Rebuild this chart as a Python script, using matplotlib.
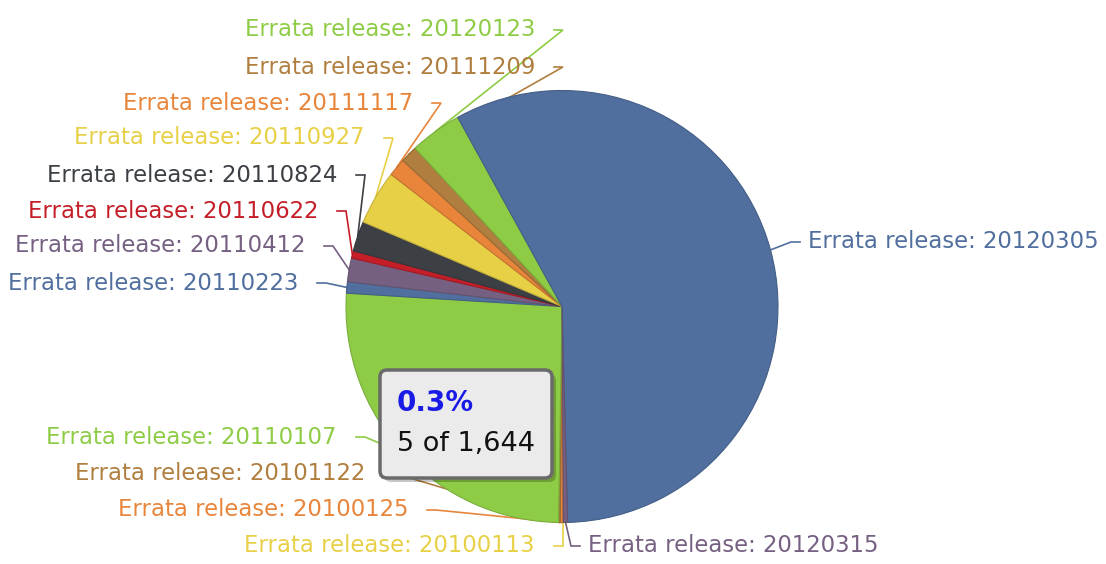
import matplotlib
matplotlib.use("Agg")
import matplotlib.pyplot as plt
import matplotlib.patches as mpatches
import numpy as np

# errata releases and the number of packages in each
releases = ["20100113", "20100125", "20101122", "20110107", "20110223", "20110412",
            "20110622", "20110824", "20110927", "20111117", "20111209", "20120123",
            "20120305", "20120315"]
counts = [1, 3, 2, 423, 14, 29, 9, 37, 67, 22, 21, 64, 947, 5]
palette = ["#E8D046", "#E8853A", "#B07E3E", "#8ECC45",
           "#506F9E", "#766082", "#C41E28", "#3C4044"]
colors = [palette[i % len(palette)] for i in range(len(releases))]

# label anchors in pixels from top-left (text edge nearest the pie)
label_x = [535, 408, 365, 337, 298, 305, 318, 337, 365, 413, 535, 535, 808, 588]
label_y = [546, 510, 473, 437, 283, 246, 211, 175, 138, 103, 67, 30, 242, 546]
hovered = "20120315"

W, H = 1106, 564
cx, cy, r = 562, 306.5, 216

fig = plt.figure(figsize=(W / 100, H / 100), dpi=100)
ax = fig.add_axes([0, 0, 1, 1])

wedges, _ = ax.pie(counts, colors=colors, startangle=-89.6, counterclock=False,
                   center=(cx, H - cy), radius=r, frame=True,
                   wedgeprops={"linewidth": 0.8, "zorder": 3})
for w, c in zip(wedges, colors):
    w.set_edgecolor(tuple(np.array(matplotlib.colors.to_rgb(c)) * 0.85))

# data labels with connectors
for w, name, c, lx, ly in zip(wedges, releases, colors, label_x, label_y):
    mid = np.deg2rad((w.theta1 + w.theta2) / 2)
    ex, ey = cx + r * np.cos(mid), (H - cy) + r * np.sin(mid)
    y = H - ly
    if lx > cx:
        pts = [(lx - 8, y), (lx - 17, y), (ex, ey)]
        ha = "left"
    else:
        pts = [(lx + 19, y), (lx + 28, y), (ex, ey)]
        ha = "right"
    xs, ys = zip(*pts)
    ax.plot(xs, ys, color=c, lw=1.2, zorder=2, solid_joinstyle="miter")
    ax.text(lx, y, "Errata release: " + name, color=c, fontsize=16.4,
            ha=ha, va="center", family="DejaVu Sans", zorder=4)

# tooltip for the hovered slice
i = releases.index(hovered)
total = sum(counts)
bx, by, bw, bh = 380, H - 478, 172, 108
shadow = mpatches.FancyBboxPatch((bx + 4, by - 4), bw, bh,
                                 boxstyle="round,pad=0,rounding_size=7",
                                 fc="black", ec="none", alpha=0.22, zorder=5)
box = mpatches.FancyBboxPatch((bx, by), bw, bh,
                              boxstyle="round,pad=0,rounding_size=7",
                              fc="#EBEBEB", ec="#6A6A6A", lw=2.5, zorder=6)
ax.add_patch(shadow)
ax.add_patch(box)
ax.text(bx + 17, H - 403, "{:.1f}%".format(counts[i] / total * 100), color="#1A1AE6",
        fontsize=20, fontweight="bold", ha="left", va="center", zorder=7)
ax.text(bx + 17, H - 444, "{} of {:,}".format(counts[i], total), color="#111111",
        fontsize=19.5, ha="left", va="center", zorder=7)

ax.set_xlim(0, W)
ax.set_ylim(0, H)
ax.set_aspect("equal")
ax.axis("off")
fig.savefig("out.png", dpi=100, facecolor="white")
